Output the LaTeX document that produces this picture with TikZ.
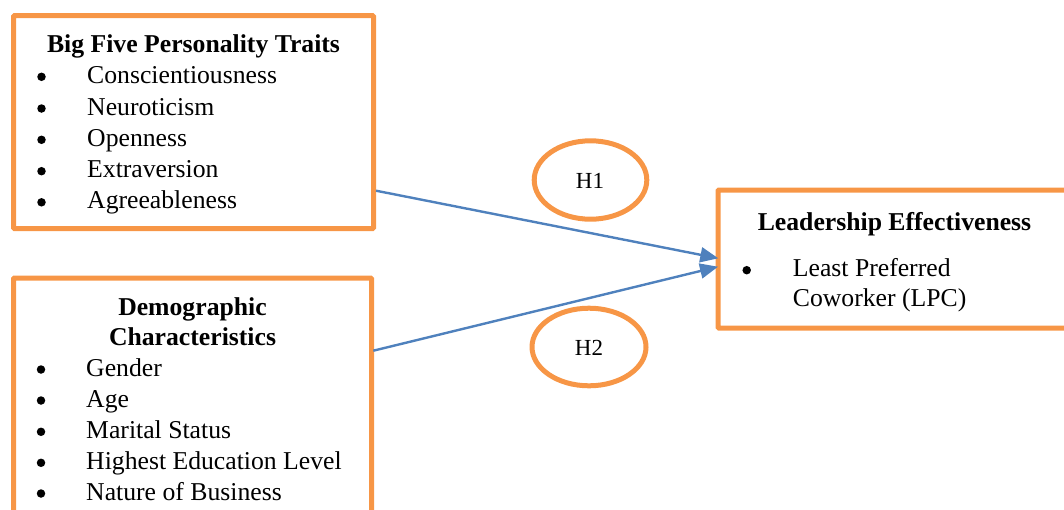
\documentclass[tikz,border=0pt]{standalone}
\usepackage{fontspec}
\setmainfont{Liberation Serif}
\usetikzlibrary{arrows.meta}
\definecolor{orng}{HTML}{F79646}
\definecolor{blu}{HTML}{4F81BD}
\begin{document}
\begin{tikzpicture}[x=1pt,y=-1pt,
  box/.style={draw=orng,line width=5pt,rounded corners=1pt},
  txt/.style={anchor=base west,inner sep=0pt,font=\fontsize{25.7}{30}\selectfont},
  ttl/.style={anchor=base,inner sep=0pt,font=\fontsize{25.7}{30}\selectfont\bfseries},
  hlab/.style={anchor=base,inner sep=0pt,font=\fontsize{23}{27}\selectfont},
  dot/.style={circle,fill=black,inner sep=0pt,minimum size=8.5pt},
  link/.style={draw=blu,line width=2.4pt,-{Triangle[length=18pt,width=15pt]}}]
\useasboundingbox (0,0) rectangle (1064,509);
% boxes
\draw[box] (13.5,15.7) rectangle (373.5,228.5);
\draw[box] (13.5,278) rectangle (371.5,540);
\draw[box] (718,190) rectangle (1090,328);
% Big five
\node[ttl] (t1) at (193.5,52) {Big Five Personality Traits};
\foreach \y/\t [count=\i] in {83.3/Conscientiousness,115/Neuroticism,146.3/Openness,177.7/Extraversion,208.8/Agreeableness}{
  \node[dot] (b1\i) at (41.5,\y-6.5) {};
  \node[txt] (i1\i) at (87,\y) {\t};
}
% Demographic
\node[ttl] (t2a) at (192.5,315) {Demographic};
\node[ttl] (t2b) at (192.5,345) {Characteristics};
\foreach \y/\t [count=\i] in {376/Gender,407/Age,438.3/Marital Status,469.3/Highest Education Level,500/Nature of Business}{
  \node[dot] (b2\i) at (41,\y-6.5) {};
  \node[txt] (i2\i) at (86,\y) {\t};
}
% Leadership
\node[ttl] (t3) at (894.5,230.7) {Leadership Effectiveness};
\node[dot] (b31) at (746.7,270.2) {};
\node[txt] (i31) at (792.7,276.7) {Least Preferred};
\node[txt] (i32) at (792.7,306) {Coworker (LPC)};
% hypotheses
\draw[orng,line width=5pt] (590.5,180) ellipse [x radius=56.3,y radius=39.2];
\node[hlab] (h1) at (590,188.3) {H1};
\draw[orng,line width=5pt] (589,347) ellipse [x radius=57,y radius=38.8];
\node[hlab] (h2) at (589,355) {H2};
% connectors
\coordinate (s1) at (376,190.7);
\coordinate (e1) at (718.3,258.3);
\coordinate (s2) at (373.3,350.7);
\coordinate (e2) at (718,266.7);
\draw[link] (s1) -- (e1);
\draw[link] (s2) -- (e2);
\end{tikzpicture}
\end{document}
